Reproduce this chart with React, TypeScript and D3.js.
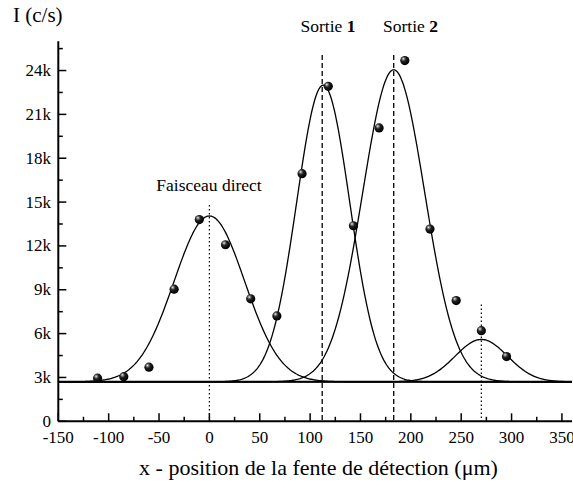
import React from "react";
import * as d3 from "d3";

// Data
const pointsX = [-111, -85, -60, -35, -10, 16, 41, 67, 92, 118, 143, 168.5, 194, 219, 245, 270, 295];
const pointsY = [2950, 3050, 3700, 9040, 13800, 12080, 8380, 7210, 16940, 22920, 13380, 20070, 24680, 13150, 8260, 6200, 4430];

const baseline = 2700;
const peakCenters = [0, 113, 183, 270];
const peakAmplitudes = [11350, 20300, 21350, 2900];
const peakSigmas = [35, 26.3, 30.8, 26];

const yMajorTicks = [0, 3000, 6000, 9000, 12000, 15000, 18000, 21000, 24000];
const yTickLabels = ["0", "3k", "6k", "9k", "12k", "15k", "18k", "21k", "24k"];
const xMajorTicks = [-150, -100, -50, 0, 50, 100, 150, 200, 250, 300, 350];

const W = 573;
const H = 491;
const FONT = "'Liberation Serif', 'Times New Roman', serif";

export default function App() {
  const x = d3.scaleLinear().domain([-150, 360]).range([58.3, 572]);
  const y = d3.scaleLinear().domain([0, 26000]).range([421.3, 41.3]);

  const yMinor = d3.range(1500, 26000, 3000);
  const xMinor = d3.range(-125, 360, 50);

  const xs = d3.range(-150, 360.5, 1);
  const line = d3
    .line<[number, number]>()
    .x((d) => x(d[0]))
    .y((d) => y(d[1]))
    .curve(d3.curveLinear);

  const curves = peakCenters.map((c, i) =>
    line(
      xs.map((v) => [
        v,
        baseline + peakAmplitudes[i] * Math.exp(-((v - c) ** 2) / (2 * peakSigmas[i] ** 2)),
      ])
    )
  );

  const x0 = x(-150);
  const yb = y(0);

  return (
    <div style={{ position: "absolute", left: 0, top: 0 }}>
      <svg width={W} height={H} style={{ display: "block", background: "#fff" }}>
        <defs>
          <radialGradient id="ball" cx="38%" cy="35%" r="62%" fx="34%" fy="30%">
            <stop offset="0%" stopColor="#f4f4f4" />
            <stop offset="18%" stopColor="#8a8a8a" />
            <stop offset="45%" stopColor="#202020" />
            <stop offset="100%" stopColor="#000000" />
          </radialGradient>
        </defs>

        {/* reference vertical lines */}
        <line x1={x(0)} x2={x(0)} y1={205} y2={yb} stroke="#000" strokeWidth={1.2} strokeDasharray="1.5,2.5" />
        <line x1={x(270)} x2={x(270)} y1={y(8000)} y2={yb} stroke="#000" strokeWidth={1.2} strokeDasharray="1.5,2.5" />
        <line x1={x(112)} x2={x(112)} y1={55} y2={yb} stroke="#000" strokeWidth={1.3} strokeDasharray="5,3" />
        <line x1={x(183)} x2={x(183)} y1={55} y2={yb} stroke="#000" strokeWidth={1.3} strokeDasharray="5,3" />

        {/* baseline */}
        <line x1={x0} x2={x(360)} y1={y(baseline)} y2={y(baseline)} stroke="#000" strokeWidth={2} />

        {/* gaussian fits */}
        {curves.map((d, i) => (
          <path key={i} d={d || ""} fill="none" stroke="#000" strokeWidth={1.3} />
        ))}

        {/* axes */}
        <line x1={x0} x2={x0} y1={y(26000)} y2={yb} stroke="#000" strokeWidth={2} />
        <line x1={x0} x2={x(360)} y1={yb} y2={yb} stroke="#000" strokeWidth={2} />

        {yMajorTicks.map((t, i) => (
          <g key={"ym" + t}>
            <line x1={x0} x2={x0 + 8} y1={y(t)} y2={y(t)} stroke="#000" strokeWidth={1.5} />
            <text
              x={51}
              y={y(t)}
              textAnchor="end"
              dominantBaseline="central"
              fontFamily={FONT}
              fontSize={17}
            >
              {yTickLabels[i]}
            </text>
          </g>
        ))}
        {yMinor.map((t) => (
          <line key={"yn" + t} x1={x0} x2={x0 + 4.5} y1={y(t)} y2={y(t)} stroke="#000" strokeWidth={1.5} />
        ))}
        {xMajorTicks.map((t) => (
          <g key={"xm" + t}>
            <line x1={x(t)} x2={x(t)} y1={yb} y2={yb - 8} stroke="#000" strokeWidth={1.5} />
            <text x={x(t)} y={443} textAnchor="middle" fontFamily={FONT} fontSize={17}>
              {t}
            </text>
          </g>
        ))}
        {xMinor.map((t) => (
          <line key={"xn" + t} x1={x(t)} x2={x(t)} y1={yb} y2={yb - 4.5} stroke="#000" strokeWidth={1.5} />
        ))}

        {/* data points */}
        {pointsX.map((px, i) => (
          <circle key={"p" + i} cx={x(px)} cy={y(pointsY[i])} r={4.6} fill="url(#ball)" />
        ))}

        {/* labels */}
        <text x={13} y={22} fontFamily={FONT} fontSize={21}>
          I (c/s)
        </text>
        <text x={209} y={191} textAnchor="middle" fontFamily={FONT} fontSize={17.5}>
          Faisceau direct
        </text>
        <text x={328} y={32} textAnchor="middle" fontFamily={FONT} fontSize={17.5}>
          Sortie <tspan fontWeight="bold">1</tspan>
        </text>
        <text x={410.5} y={32} textAnchor="middle" fontFamily={FONT} fontSize={17.5}>
          Sortie <tspan fontWeight="bold">2</tspan>
        </text>
        <text x={318.5} y={475} textAnchor="middle" fontFamily={FONT} fontSize={22}>
          x - position de la fente de détection (μm)
        </text>
      </svg>
    </div>
  );
}
